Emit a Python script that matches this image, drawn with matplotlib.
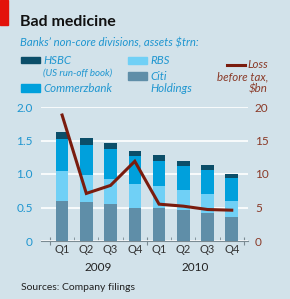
import matplotlib
matplotlib.use("Agg")
import matplotlib.pyplot as plt
import numpy as np
from matplotlib.patches import Rectangle
from matplotlib.lines import Line2D

plt.rcParams['font.family'] = ['Lato', 'DejaVu Sans']

quarters = ['Q1', 'Q2', 'Q3', 'Q4', 'Q1', 'Q2', 'Q3', 'Q4']
years = ['2009', '2010']
citi = [0.60, 0.58, 0.55, 0.49, 0.50, 0.46, 0.42, 0.36]
rbs = [0.45, 0.41, 0.375, 0.355, 0.325, 0.30, 0.28, 0.24]
commerzbank = [0.47, 0.45, 0.445, 0.425, 0.375, 0.36, 0.36, 0.34]
hsbc = [0.10, 0.10, 0.09, 0.08, 0.08, 0.07, 0.07, 0.06]
loss = [18.8, 7.1, 8.3, 11.9, 5.5, 5.2, 4.7, 4.6]

bg = '#d2e2ea'
c_hsbc = '#0b4e69'
c_comm = '#00a0dc'
c_rbs = '#70d0f6'
c_citi = '#5f8ea8'
c_line = '#7a1c0e'
c_blue = '#1f96d0'
c_brown = '#8a3a28'

W, H = 290, 299
fig = plt.figure(figsize=(W / 100, H / 100), dpi=100, facecolor=bg)

def fx(px):
    return px / W

def fy(py):
    return 1 - py / H

ax = fig.add_axes([fx(41), fy(241), fx(248) - fx(41), fy(107) - fy(241)])
ax.set_facecolor(bg)
x = np.arange(len(quarters))
bw = 0.52
bottom = np.zeros(len(x))
for vals, col in [(citi, c_citi), (rbs, c_rbs), (commerzbank, c_comm), (hsbc, c_hsbc)]:
    ax.bar(x, vals, bw, bottom=bottom, color=col, zorder=2)
    bottom += np.array(vals)

ax.set_ylim(0, 2.0)
ax.set_xlim(-0.87, 7.67)
ax.set_yticks([0, 0.5, 1.0, 1.5, 2.0])
ax.set_yticklabels(['0', '0.5', '1.0', '1.5', '2.0'])
ax.yaxis.grid(True, color='white', lw=1.2, zorder=0)
ax.set_axisbelow(True)
for s in ['top', 'right', 'left']:
    ax.spines[s].set_visible(False)
ax.spines['bottom'].set_color('#7a8a92')
ax.spines['bottom'].set_zorder(3)
ax.tick_params(axis='y', length=0, labelsize=8.5, labelcolor=c_blue, pad=6)
ax.set_xticks([-0.5, 3.5, 7.5])
ax.set_xticks([0.5, 1.5, 2.5, 4.5, 5.5, 6.5], minor=True)
ax.tick_params(axis='x', which='major', direction='inout', length=6, color='#7a8a92', labelbottom=False)
ax.tick_params(axis='x', which='minor', direction='in', length=3, color='#7a8a92')

for i, q in enumerate(quarters):
    ax.text(i, -0.065, q, transform=ax.get_xaxis_transform(), ha='center', va='center',
            fontsize=8, color='#333333')
for j, yr in enumerate(years):
    ax.text(1.5 + 4 * j, -0.2, yr, transform=ax.get_xaxis_transform(), ha='center', va='center',
            fontsize=8.5, color='#222222')

ax2 = ax.twinx()
ax2.plot(x, loss, color=c_line, lw=2.2, zorder=5, solid_joinstyle='miter')
ax2.set_ylim(0, 20)
ax2.set_yticks([0, 5, 10, 15, 20])
ax2.tick_params(axis='y', length=0, labelsize=8.5, labelcolor=c_brown, pad=5)
for s in ['top', 'right', 'left', 'bottom']:
    ax2.spines[s].set_visible(False)

# header
fig.patches.append(Rectangle((0, fy(25)), fx(8), fy(0) - fy(25), transform=fig.transFigure,
                             color='#e3120b'))
fig.text(fx(20), fy(22), 'Bad medicine', fontsize=11.5, fontweight='bold', va='center', color='#111111')
fig.text(fx(20), fy(43), 'Banks\u2019 non-core divisions, assets $trn:', fontsize=8.2,
         style='italic', color=c_blue, va='center')

# legend
def swatch(x0, y0, x1, y1, col):
    fig.patches.append(Rectangle((fx(x0), fy(y1)), fx(x1) - fx(x0), fy(y0) - fy(y1),
                                 transform=fig.transFigure, color=col))

lf = 8.3
swatch(21, 57, 40, 63, c_hsbc)
fig.text(fx(43), fy(60.5), 'HSBC', fontsize=lf, style='italic', color=c_blue, va='center')
fig.text(fx(43), fy(73), '(US run-off book)', fontsize=7, style='italic', color=c_blue, va='center')
swatch(21, 84, 40, 92, c_comm)
fig.text(fx(43), fy(88), 'Commerzbank', fontsize=lf, style='italic', color=c_blue, va='center')
swatch(128, 57, 147, 64, c_rbs)
fig.text(fx(150), fy(60.5), 'RBS', fontsize=lf, style='italic', color=c_blue, va='center')
swatch(128, 72, 147, 80, c_citi)
fig.text(fx(150), fy(76), 'Citi', fontsize=lf, style='italic', color=c_blue, va='center')
fig.text(fx(150), fy(89), 'Holdings', fontsize=lf, style='italic', color=c_blue, va='center')
fig.lines.append(Line2D([fx(227), fx(245)], [fy(65), fy(65)], transform=fig.transFigure,
                        color=c_line, lw=2.2))
fig.text(fx(268), fy(64.5), 'Loss', fontsize=lf, style='italic', color=c_brown, va='center', ha='right')
fig.text(fx(268), fy(77), 'before tax,', fontsize=lf, style='italic', color=c_brown, va='center', ha='right')
fig.text(fx(268), fy(89), '$bn', fontsize=lf, style='italic', color=c_brown, va='center', ha='right')

fig.text(fx(21), fy(287), 'Sources: Company filings', fontsize=7.5, color='#222222', va='center')

fig.savefig('out.png', dpi=100, facecolor=bg)
